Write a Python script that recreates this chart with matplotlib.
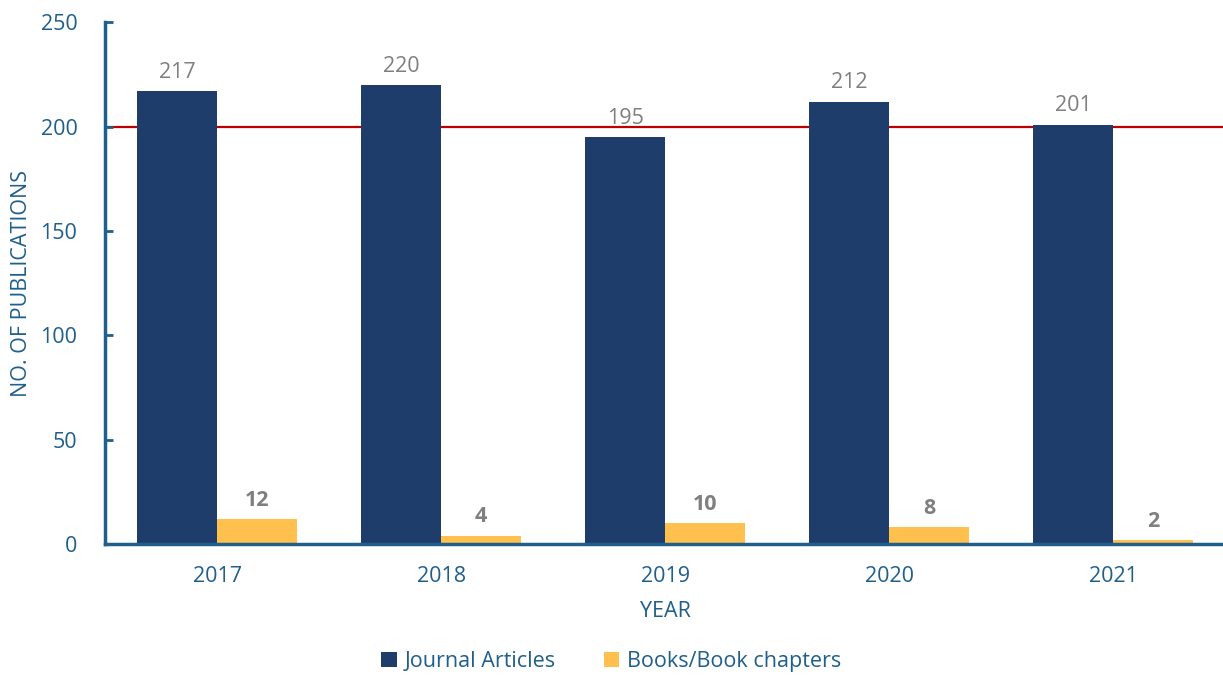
import numpy as np
import matplotlib.pyplot as plt

years = ['2017', '2018', '2019', '2020', '2021']
journal_articles = [217, 220, 195, 212, 201]
book_chapters = [12, 4, 10, 8, 2]

plt.rcParams['font.family'] = ['Open Sans', 'DejaVu Sans']

axis_blue = '#1F5F8B'
navy = '#1F3D6B'
gold = '#FFC04D'
grey = '#7F7F7F'
fs = 15.5

fig = plt.figure(figsize=(12.23, 6.75), dpi=100)
ax = fig.add_axes([0.086, 0.194, 0.916, 0.773])

x = np.arange(len(years))
w = 0.357

# reference line at 200 publications
ax.axhline(200, color='#C00000', lw=1.6, zorder=1)

b1 = ax.bar(x - w / 2, journal_articles, w, color=navy, label='Journal Articles', zorder=2)
b2 = ax.bar(x + w / 2, book_chapters, w, color=gold, label='Books/Book chapters', zorder=2)

for rect, v in zip(b1, journal_articles):
    ax.text(rect.get_x() + rect.get_width() / 2, v + 4, str(v), ha='center', va='bottom',
            fontsize=fs, color=grey)
for rect, v in zip(b2, book_chapters):
    ax.text(rect.get_x() + rect.get_width() / 2, v + 4, str(v), ha='center', va='bottom',
            fontsize=fs, color=grey, fontweight='bold')

ax.set_xlim(-0.5, 4.5)
ax.set_ylim(0, 250)
ax.set_yticks([0, 50, 100, 150, 200, 250])
ax.set_xticks(x)
ax.set_xticklabels(years)

for side in ['top', 'right']:
    ax.spines[side].set_visible(False)
for side in ['left', 'bottom']:
    ax.spines[side].set_color(axis_blue)
    ax.spines[side].set_linewidth(2.5)

ax.tick_params(axis='y', direction='in', length=6, width=2, color=axis_blue,
               labelcolor=axis_blue, labelsize=fs, pad=20)
ax.tick_params(axis='x', length=0, labelcolor=axis_blue, labelsize=fs, pad=16)

ax.set_xlabel('YEAR', color=axis_blue, fontsize=fs, labelpad=10)
ax.set_ylabel('NO. OF PUBLICATIONS', color=axis_blue, fontsize=fs, labelpad=6)

fig.legend(handles=[b1, b2], loc='center', bbox_to_anchor=(0.5, 0.02), ncol=2,
           frameon=False, fontsize=fs, labelcolor=axis_blue, handlelength=0.7,
           handleheight=0.7, handletextpad=0.4, columnspacing=2.2)

fig.savefig('out.png', dpi=100)
